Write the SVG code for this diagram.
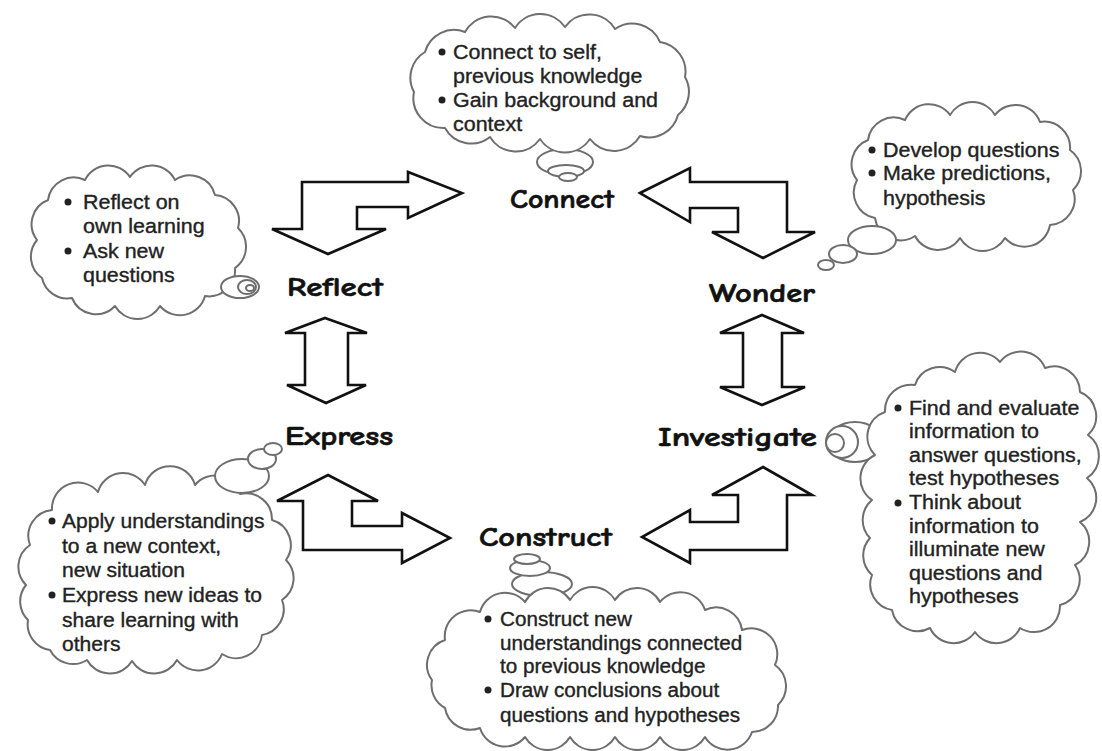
<svg xmlns="http://www.w3.org/2000/svg" width="1102" height="751" viewBox="0 0 1102 751">
<style>
.bg{fill:#fff}
.cloud{fill:#fff;stroke:#6e6e6e;stroke-width:2;stroke-linejoin:round}
.bub{fill:#fff;stroke:#6e6e6e;stroke-width:2}
.arrow{fill:#fff;stroke:#111;stroke-width:2.6;stroke-linejoin:miter}
.lbl{font-family:"Comic Sans MS","Comic Neue","DejaVu Sans",sans-serif;font-weight:bold;font-size:26px;fill:#111;stroke:#111;stroke-width:0.6}
.t{font-family:"Liberation Sans",Arial,sans-serif;font-size:19.5px;fill:#222;stroke:#222;stroke-width:0.35}
.dot{fill:#222}
</style>
<rect class="bg" x="0" y="0" width="1102" height="751"/>

<g id="connectors">
<polygon id="arrow-reflect-connect" class="arrow" points="302,182 408,182 408,172 462,193 408,218 408,207 357,207 357,229 386,229 328,254 272,229 302,229"/>
<polygon id="arrow-wonder-connect" class="arrow" points="640,193 690,168 690,182 787,182 787,232 815,232 763,258 712,232 738,232 738,208 690,208 690,222"/>
<polygon id="arrow-reflect-express" class="arrow" points="325,318 367,333 348,333 348,385 366,385 326,403 287,385 305,385 305,333 285,333"/>
<polygon id="arrow-wonder-investigate" class="arrow" points="762,315 804,333 782,333 782,387 805,387 762,405 720,387 743,387 743,333 720,333"/>
<polygon id="arrow-express-construct" class="arrow" points="328,475 378,501 352,501 352,526 402,526 402,513 450,538 402,563 402,550 303,550 303,501 277,501"/>
<polygon id="arrow-investigate-construct" class="arrow" points="763,467 812,495 787,495 787,550 690,550 690,563 642,537 690,510 690,522 738,522 738,495 712,495"/>
</g>

<g id="connect-cloud">
<ellipse class="bub" cx="565" cy="162" rx="28" ry="13"/>
<path class="cloud" d="M414,92 A30,30 0 0 1 425,52 A30,30 0 0 1 465,32 A30,30 0 0 1 515,28 A30,30 0 0 1 565,27 A30,30 0 0 1 615,29 A30,30 0 0 1 660,42 A30,30 0 0 1 685,77 A30,30 0 0 1 678,115 A30,30 0 0 1 640,136 A30,30 0 0 1 590,139 A30,30 0 0 1 540,139 A30,30 0 0 1 490,137 A30,30 0 0 1 445,128 A30,30 0 0 1 414,92 Z"/>
<ellipse class="bub" cx="566" cy="171" rx="18" ry="6"/>
<ellipse class="bub" cx="568" cy="177" rx="9" ry="4"/>
<circle class="dot" cx="442" cy="52" r="3.5"/><circle class="dot" cx="442" cy="100" r="3.5"/>
<g transform="translate(453 59) scale(1.1 1)"><text class="t"><tspan x="0" y="0">Connect to self,</tspan><tspan x="0" y="24">previous knowledge</tspan><tspan x="0" y="48">Gain background and</tspan><tspan x="0" y="72">context</tspan></text></g>
</g>

<g id="reflect-cloud">
<path class="cloud" d="M37,240 A26,26 0 0 1 48,200 A26,26 0 0 1 85,180 A26,26 0 0 1 130,177 A26,26 0 0 1 175,180 A26,26 0 0 1 215,195 A26,26 0 0 1 238,228 A26,26 0 0 1 235,268 A26,26 0 0 1 205,296 A26,26 0 0 1 160,306 A26,26 0 0 1 115,306 A26,26 0 0 1 72,298 A26,26 0 0 1 42,278 A26,26 0 0 1 37,240 Z"/>
<ellipse class="bub" cx="240" cy="287" rx="19" ry="11"/>
<ellipse class="bub" cx="247" cy="287" rx="9" ry="7"/>
<ellipse class="bub" cx="250" cy="288" rx="4" ry="3"/>
<circle class="dot" cx="68" cy="202" r="3.5"/><circle class="dot" cx="68" cy="251" r="3.5"/>
<g transform="translate(83 209) scale(1.1 1)"><text class="t"><tspan x="0" y="0">Reflect on</tspan><tspan x="0" y="24.5">own learning</tspan><tspan x="0" y="49">Ask new</tspan><tspan x="0" y="73">questions</tspan></text></g>
</g>

<g id="wonder-cloud">
<path class="cloud" d="M857,180 A26,26 0 0 1 868,140 A26,26 0 0 1 905,120 A26,26 0 0 1 950,115 A26,26 0 0 1 995,115 A26,26 0 0 1 1040,122 A26,26 0 0 1 1070,150 A26,26 0 0 1 1073,190 A26,26 0 0 1 1050,225 A26,26 0 0 1 1005,238 A26,26 0 0 1 960,238 A26,26 0 0 1 915,236 A26,26 0 0 1 875,218 A26,26 0 0 1 857,180 Z"/>
<ellipse class="bub" cx="872" cy="240" rx="24" ry="14"/>
<ellipse class="bub" cx="843" cy="254" rx="14" ry="9"/>
<ellipse class="bub" cx="826" cy="265" rx="8" ry="5"/>
<circle class="dot" cx="872" cy="150" r="3.5"/><circle class="dot" cx="872" cy="173" r="3.5"/>
<g transform="translate(883 157) scale(1.1 1)"><text class="t"><tspan x="0" y="0">Develop questions</tspan><tspan x="0" y="23.5">Make predictions,</tspan><tspan x="0" y="48">hypothesis</tspan></text></g>
</g>

<g id="investigate-cloud">
<ellipse class="bub" cx="855" cy="442" rx="27" ry="20"/>
<path class="cloud" d="M872,500 A26,26 0 0 1 875,455 A26,26 0 0 1 885,412 A26,26 0 0 1 915,385 A26,26 0 0 1 955,372 A26,26 0 0 1 1000,362 A26,26 0 0 1 1045,368 A26,26 0 0 1 1080,392 A26,26 0 0 1 1088,435 A26,26 0 0 1 1087,478 A26,26 0 0 1 1080,522 A26,26 0 0 1 1075,565 A26,26 0 0 1 1060,605 A26,26 0 0 1 1020,628 A26,26 0 0 1 975,632 A26,26 0 0 1 930,628 A26,26 0 0 1 892,610 A26,26 0 0 1 872,575 A26,26 0 0 1 870,538 A26,26 0 0 1 872,500 Z"/>
<circle class="bub" cx="842" cy="442" r="16"/>
<circle class="bub" cx="835" cy="443" r="9"/>
<circle class="dot" cx="898" cy="408" r="3.5"/><circle class="dot" cx="898" cy="503" r="3.5"/>
<g transform="translate(909 415) scale(1.1 1)"><text class="t"><tspan x="0" y="0">Find and evaluate</tspan><tspan x="0" y="23.5">information to</tspan><tspan x="0" y="47">answer questions,</tspan><tspan x="0" y="70.5">test hypotheses</tspan><tspan x="0" y="94.5">Think about</tspan><tspan x="0" y="118">information to</tspan><tspan x="0" y="141.5">illuminate new</tspan><tspan x="0" y="165">questions and</tspan><tspan x="0" y="188.5">hypotheses</tspan></text></g>
</g>

<g id="express-cloud">
<path class="cloud" d="M26,585 A26,26 0 0 1 30,545 A26,26 0 0 1 52,510 A26,26 0 0 1 98,492 A26,26 0 0 1 145,485 A26,26 0 0 1 195,485 A26,26 0 0 1 240,494 A26,26 0 0 1 272,520 A26,26 0 0 1 286,560 A26,26 0 0 1 282,600 A26,26 0 0 1 262,635 A26,26 0 0 1 222,654 A26,26 0 0 1 177,660 A26,26 0 0 1 132,661 A26,26 0 0 1 87,660 A26,26 0 0 1 50,650 A26,26 0 0 1 28,620 A26,26 0 0 1 26,585 Z"/>
<ellipse class="bub" cx="242" cy="476" rx="27" ry="17"/>
<ellipse class="bub" cx="262" cy="459" rx="14" ry="10"/>
<ellipse class="bub" cx="273" cy="449" rx="9" ry="6"/>
<circle class="dot" cx="52" cy="521" r="3.5"/><circle class="dot" cx="52" cy="595" r="3.5"/>
<g transform="translate(62 528) scale(1.08 1)"><text class="t"><tspan x="0" y="0">Apply understandings</tspan><tspan x="0" y="25">to a new context,</tspan><tspan x="0" y="49">new situation</tspan><tspan x="0" y="74">Express new ideas to</tspan><tspan x="0" y="99">share learning with</tspan><tspan x="0" y="123">others</tspan></text></g>
</g>

<g id="construct-cloud">
<ellipse class="bub" cx="542" cy="584" rx="30" ry="12"/>
<ellipse class="bub" cx="530" cy="568" rx="20" ry="8"/>
<ellipse class="bub" cx="527" cy="559" rx="13" ry="5"/>
<path class="cloud" d="M432,680 A26,26 0 0 1 445,640 A26,26 0 0 1 480,612 A26,26 0 0 1 525,602 A26,26 0 0 1 570,600 A26,26 0 0 1 615,600 A26,26 0 0 1 660,602 A26,26 0 0 1 705,610 A26,26 0 0 1 742,630 A26,26 0 0 1 775,665 A26,26 0 0 1 778,705 A26,26 0 0 1 752,732 A26,26 0 0 1 705,737 A26,26 0 0 1 660,737 A26,26 0 0 1 615,737 A26,26 0 0 1 570,737 A26,26 0 0 1 525,737 A26,26 0 0 1 480,728 A26,26 0 0 1 445,708 A26,26 0 0 1 432,680 Z"/>
<circle class="dot" cx="488" cy="619" r="3.5"/><circle class="dot" cx="488" cy="690" r="3.5"/>
<g transform="translate(500 626) scale(1.06 1)"><text class="t"><tspan x="0" y="0">Construct new</tspan><tspan x="0" y="24">understandings connected</tspan><tspan x="0" y="47">to previous knowledge</tspan><tspan x="0" y="71">Draw conclusions about</tspan><tspan x="0" y="96">questions and hypotheses</tspan></text></g>
</g>

<g id="node-connect"><text class="lbl" x="510" y="208" textLength="104" lengthAdjust="spacingAndGlyphs">Connect</text></g>
<g id="node-reflect"><text class="lbl" x="287" y="296" textLength="96" lengthAdjust="spacingAndGlyphs">Reflect</text></g>
<g id="node-wonder"><text class="lbl" x="709" y="302" textLength="106" lengthAdjust="spacingAndGlyphs">Wonder</text></g>
<g id="node-express"><text class="lbl" x="285" y="445" textLength="108" lengthAdjust="spacingAndGlyphs">Express</text></g>
<g id="node-investigate"><text class="lbl" x="658" y="446" textLength="159" lengthAdjust="spacingAndGlyphs">Investigate</text></g>
<g id="node-construct"><text class="lbl" x="479" y="546" textLength="133" lengthAdjust="spacingAndGlyphs">Construct</text></g>
</svg>
